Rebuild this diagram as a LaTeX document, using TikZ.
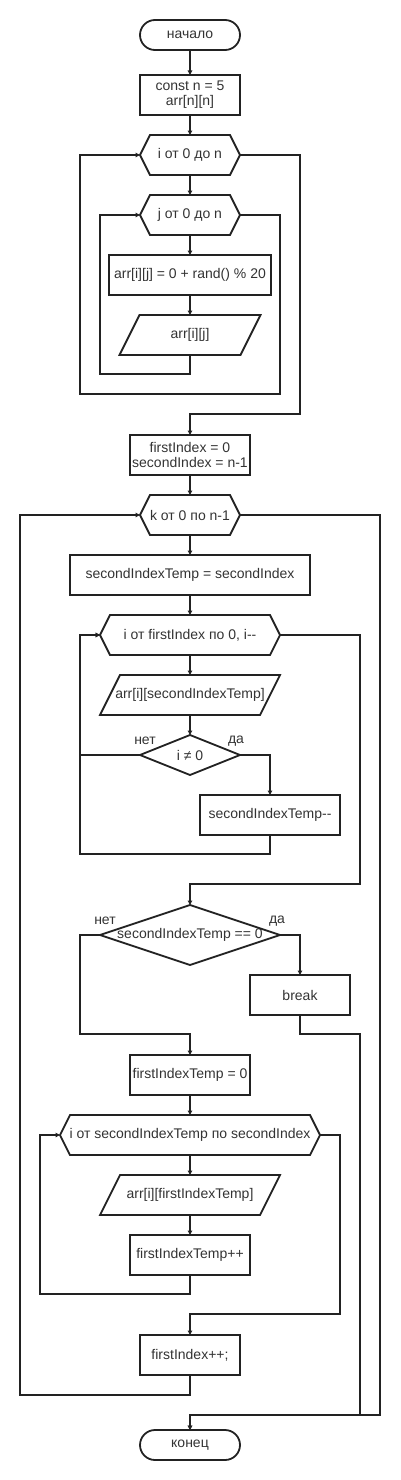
\documentclass[tikz,border=0pt]{standalone}
\usepackage{fontspec}
\setmainfont{Liberation Sans}[Ligatures=TeXOff]
\usetikzlibrary{positioning,arrows.meta,calc}
\definecolor{fcLine}{RGB}{34,34,34}
\definecolor{fcText}{RGB}{51,51,51}

\begin{document}
\begin{tikzpicture}[
  x=1pt, y=1pt,
  font=\fontsize{14}{15}\selectfont,
  every node/.append style={align=center, text=fcText, outer sep=0pt},
  node distance=20pt,
  term/.style={draw=fcLine, line width=1.8pt, rounded corners=15pt, minimum width=100pt, minimum height=30pt, inner sep=2pt},
  box/.style={draw=fcLine, line width=1.8pt, minimum height=40pt, inner sep=2pt},
  plain/.style={minimum height=40pt, inner sep=2pt},
  shp/.style={draw=fcLine, line width=1.8pt, line join=miter},
  arr/.style={-{Triangle[length=4.5pt, width=4.5pt]}, draw=fcLine, line width=1.1pt},
  lbl/.style={inner sep=0pt},
]
\useasboundingbox (0,0) rectangle (400,-1480);
% fill the array
\node[term] (start) at (190,-35) {начало};
\node[box, minimum width=100pt, below=25pt of start] (init) {const n = 5\\arr[n][n]};
\node[plain, minimum width=100pt, below=of init] (iloop) {i от 0 до n};
\node[plain, minimum width=100pt, below=of iloop] (jloop) {j от 0 до n};
\node[box, minimum width=162pt, below=of jloop] (fill) {arr[i][j] = 0 + rand() \% 20};
\node[plain, minimum width=141pt, below=of fill] (outa) {arr[i][j]};
\node[box, minimum width=120pt, below=80pt of outa] (idx) {firstIndex = 0\\secondIndex = n-1};
% main loop over k
\node[plain, minimum width=100pt, below=of idx] (kloop) {k от 0 по n-1};
\node[box, minimum width=240pt, below=of kloop] (tmp) {secondIndexTemp = secondIndex};
\node[plain, minimum width=180pt, below=of tmp] (iback) {i от firstIndex по 0, i--};
\node[plain, minimum width=180pt, below=of iback] (outb) {arr[i][secondIndexTemp]};
\node[plain, minimum width=100pt, below=of outb] (ne) {i ≠ 0};
\node[box, minimum width=140pt, below=20pt of ne, xshift=80pt] (dec) {secondIndexTemp--};
\node[plain, minimum width=180pt, minimum height=60pt, below=130pt of ne] (zero) {secondIndexTemp == 0};
\node[box, minimum width=100pt, below=10pt of zero, xshift=110pt] (brk) {break};
\node[box, minimum width=120pt, below=90pt of zero] (ftmp) {firstIndexTemp = 0};
\node[plain, minimum width=260pt, below=of ftmp] (iloop3) {i от secondIndexTemp по secondIndex};
\node[plain, minimum width=180pt, below=of iloop3] (outc) {arr[i][firstIndexTemp]};
\node[box, minimum width=120pt, below=of outc] (finc) {firstIndexTemp++};
\node[box, minimum width=100pt, below=60pt of finc] (fi) {firstIndex++;};
\node[term, below=55pt of fi] (stop) {конец};
% branch labels
\node[lbl] (neNo) at ([xshift=-45pt, yshift=14pt]ne) {нет};
\node[lbl] (neYes) at ([xshift=46pt, yshift=14pt]ne) {да};
\node[lbl] (zeroNo) at ([xshift=-85pt, yshift=14pt]zero) {нет};
\node[lbl] (zeroYes) at ([xshift=87pt, yshift=14pt]zero) {да};
% outlines
\foreach \n in {iloop,jloop,kloop,iback,iloop3}
  \draw[shp] (\n.west) -- ([xshift=10pt]\n.north west) -- ([xshift=-10pt]\n.north east)
    -- (\n.east) -- ([xshift=-10pt]\n.south east) -- ([xshift=10pt]\n.south west) -- cycle;
\foreach \n in {outa,outb,outc}
  \draw[shp] (\n.south west) -- ([xshift=20pt]\n.north west) -- (\n.north east)
    -- ([xshift=-20pt]\n.south east) -- cycle;
\foreach \n in {ne,zero}
  \draw[shp] (\n.north) -- (\n.east) -- (\n.south) -- (\n.west) -- cycle;
% connectors
\draw[arr] (start) -- (init);
\draw[arr] (init) -- (iloop);
\draw[arr] (iloop) -- (jloop);
\draw[arr] (jloop) -- (fill);
\draw[arr] (fill) -- (outa);
\draw[arr] (outa.south) -- ++(0,-19) -| ([xshift=-40pt]jloop.west) -- (jloop.west);
\draw[arr] (jloop.east) -- ++(40,0) -- ++(0,-179) -| ([xshift=-60pt]iloop.west) -- (iloop.west);
\draw[arr] (iloop.east) -- ++(60,0) |- ([yshift=21pt]idx.north) -- (idx.north);
\draw[arr] (idx) -- (kloop);
\draw[arr] (kloop) -- (tmp);
\draw[arr] (tmp) -- (iback);
\draw[arr] (iback) -- (outb);
\draw[arr] (outb) -- (ne);
\draw[arr] (ne.west) -| ([xshift=-20pt]iback.west) -- (iback.west);
\draw[arr] (ne.east) -| (dec.north);
\draw[arr] (dec.south) -- ++(0,-19) -| ([xshift=-20pt]iback.west) -- (iback.west);
\draw[arr] (iback.east) -- ++(80,0) |- ([yshift=21pt]zero.north) -- (zero.north);
\draw[arr] (zero.west) -- ++(-20,0) |- ([yshift=21pt]ftmp.north) -- (ftmp.north);
\draw[arr] (zero.east) -| (brk.north);
\draw[arr] (brk.south) -- ++(0,-19) -- ++(60,0) |- ([yshift=15pt]stop.north) -- (stop.north);
\draw[arr] (ftmp) -- (iloop3);
\draw[arr] (iloop3) -- (outc);
\draw[arr] (outc) -- (finc);
\draw[arr] (finc.south) -- ++(0,-19) -| ([xshift=-20pt]iloop3.west) -- (iloop3.west);
\draw[arr] (iloop3.east) -- ++(20,0) |- ([yshift=21pt]fi.north) -- (fi.north);
\draw[arr] (fi.south) -- ++(0,-20) -| ([xshift=-120pt]kloop.west) -- (kloop.west);
\draw[arr] (kloop.east) -- ++(140,0) |- ([yshift=15pt]stop.north) -- (stop.north);
\end{tikzpicture}
\end{document}
